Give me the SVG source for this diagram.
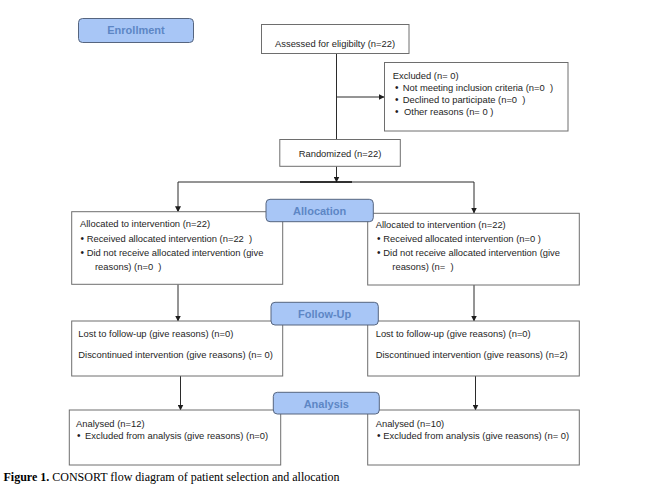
<svg xmlns="http://www.w3.org/2000/svg" width="651" height="501" viewBox="0 0 651 501">
<style>
.box{fill:#fff;stroke:#6e6e6e;stroke-width:1}
.lab{fill:#a8c6f6;stroke:#56657f;stroke-width:1}
.lt{font-family:"Liberation Sans",Arial,sans-serif;font-size:11px;font-weight:bold;fill:#5d86c5;text-anchor:middle}
.t{font-family:"Liberation Sans",Arial,sans-serif;font-size:9.4px;fill:#1e1e1e;white-space:pre}
.b{font-size:10px}
.con{stroke:#2b2b2b;stroke-width:1;fill:none}
.cap{font-family:"Liberation Serif","Times New Roman",serif;font-size:12px;fill:#000;white-space:pre}
</style>
<defs>
<marker id="ah" markerUnits="userSpaceOnUse" markerWidth="6" markerHeight="6" refX="5.5" refY="3" orient="auto">
<path d="M0,0 L6,3 L0,6 z" fill="#1e1e1e"/>
</marker>
</defs>
<rect width="651" height="501" fill="#fff"/>

<g id="connectors">
<line class="con" x1="336.5" y1="53.3" x2="336.5" y2="139.5"/>
<line class="con" x1="336.5" y1="97" x2="384" y2="97" marker-end="url(#ah)"/>
<line class="con" x1="336.5" y1="166.3" x2="336.5" y2="182" marker-end="url(#ah)"/>
<line class="con" x1="178" y1="182" x2="474" y2="182"/>
<line x1="300" y1="182" x2="352" y2="182" stroke="#111" stroke-width="1.6"/>
<line class="con" x1="178" y1="182" x2="178" y2="211.7" marker-end="url(#ah)"/>
<line class="con" x1="474" y1="182" x2="474" y2="213" marker-end="url(#ah)"/>
<line class="con" x1="178" y1="284.3" x2="178" y2="321" marker-end="url(#ah)"/>
<line class="con" x1="474" y1="285" x2="474" y2="321" marker-end="url(#ah)"/>
<line class="con" x1="180.5" y1="376" x2="180.5" y2="410" marker-end="url(#ah)"/>
<line class="con" x1="475.5" y1="376" x2="475.5" y2="410" marker-end="url(#ah)"/>
</g>

<g id="enrollment">
<rect class="lab" x="78.5" y="18.5" width="115" height="24" rx="4"/>
<text class="lt" x="136" y="34.3">Enrollment</text>
</g>

<g id="assessed">
<rect class="box" x="261.5" y="24.5" width="147.5" height="29"/>
<text class="t" x="275" y="46.5">Assessed for eligibilty (n=22)</text>
</g>

<g id="excluded">
<rect class="box" x="384.5" y="62.5" width="183.5" height="68.5"/>
<text class="t" x="392.7" y="78.5">Excluded (n= 0)</text>
<text class="t" y="90.5"><tspan class="b" x="395">•</tspan><tspan x="402.7">Not meeting inclusion criteria (n=0  )</tspan></text>
<text class="t" y="102.5"><tspan class="b" x="395">•</tspan><tspan x="402.7">Declined to participate (n=0  )</tspan></text>
<text class="t" y="114.5"><tspan class="b" x="395">•</tspan><tspan x="404">Other reasons (n= 0 )</tspan></text>
</g>

<g id="randomized">
<rect class="box" x="279.8" y="139.5" width="120.5" height="26.8"/>
<text class="t" x="340" y="157.3" text-anchor="middle">Randomized (n=22)</text>
</g>

<g id="alloc-left">
<rect class="box" x="71.7" y="211.7" width="211" height="72.6"/>
<text class="t" x="80" y="227.3">Allocated to intervention (n=22)</text>
<text class="t" y="241.7"><tspan class="b" x="80.5">•</tspan><tspan x="86.7">Received allocated intervention (n=22  )</tspan></text>
<text class="t" y="255.7"><tspan class="b" x="80.5">•</tspan><tspan x="86.7">Did not receive allocated intervention (give</tspan></text>
<text class="t" x="95" y="270">reasons) (n=0  )</text>
</g>

<g id="alloc-right">
<rect class="box" x="367.7" y="213.3" width="211.6" height="71.7"/>
<text class="t" x="375.7" y="228.3">Allocated to intervention (n=22)</text>
<text class="t" y="242.3"><tspan class="b" x="377">•</tspan><tspan x="383.3">Received allocated intervention (n=0 )</tspan></text>
<text class="t" y="256"><tspan class="b" x="377">•</tspan><tspan x="383.3">Did not receive allocated intervention (give</tspan></text>
<text class="t" x="392.3" y="270">reasons) (n=  )</text>
</g>

<g id="allocation">
<rect class="lab" x="266" y="199.3" width="107.3" height="22.4" rx="4"/>
<text class="lt" x="319.7" y="215">Allocation</text>
</g>

<g id="follow-left">
<rect class="box" x="71.7" y="321" width="211" height="55"/>
<text class="t" x="78.3" y="336.7">Lost to follow-up (give reasons) (n=0)</text>
<text class="t" x="78.3" y="358.3">Discontinued intervention (give reasons) (n= 0)</text>
</g>

<g id="follow-right">
<rect class="box" x="367.7" y="321" width="211.6" height="55"/>
<text class="t" x="375.7" y="336.7">Lost to follow-up (give reasons) (n=0)</text>
<text class="t" x="375.7" y="358.3">Discontinued intervention (give reasons) (n=2)</text>
</g>

<g id="followup">
<rect class="lab" x="271" y="302.3" width="107.3" height="22.7" rx="4"/>
<text class="lt" x="324.7" y="318">Follow-Up</text>
</g>

<g id="analysis-left">
<rect class="box" x="69.3" y="410" width="211.4" height="55"/>
<text class="t" x="76" y="426.7">Analysed (n=12)</text>
<text class="t" y="439.3"><tspan class="b" x="77">•</tspan><tspan x="85">Excluded from analysis (give reasons) (n=0)</tspan></text>
</g>

<g id="analysis-right">
<rect class="box" x="367.7" y="410" width="211.6" height="55"/>
<text class="t" x="375.7" y="426.7">Analysed (n=10)</text>
<text class="t" y="439.3"><tspan class="b" x="377">•</tspan><tspan x="383.3">Excluded from analysis (give reasons) (n= 0)</tspan></text>
</g>

<g id="analysis">
<rect class="lab" x="273.3" y="392.3" width="106" height="21.7" rx="4"/>
<text class="lt" x="326.3" y="407.7">Analysis</text>
</g>

<g id="caption">
<text class="cap" x="3.5" y="480.7"><tspan font-weight="bold">Figure 1.</tspan> CONSORT flow diagram of patient selection and allocation</text>
</g>
</svg>
